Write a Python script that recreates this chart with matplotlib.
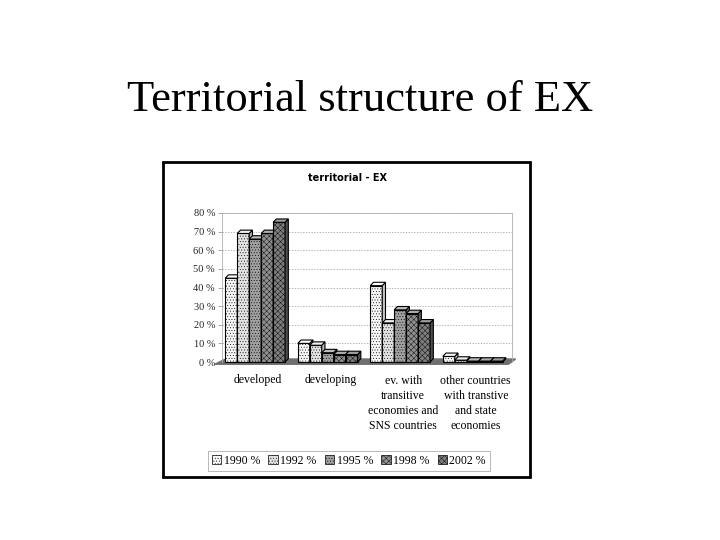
import numpy as np
import matplotlib.pyplot as plt
from matplotlib.patches import Rectangle, Polygon, Patch

# Data
categories = [
    "developed",
    "developing",
    "ev. with\ntransitive\neconomies and\nSNS countries",
    "other countries\nwith transtive\nand state\neconomies",
]
years = ["1990 %", "1992 %", "1995 %", "1998 %", "2002 %"]
values = {
    "1990 %": [45, 10, 41, 3],
    "1992 %": [69, 9, 21, 1],
    "1995 %": [66, 5, 28, 0.5],
    "1998 %": [69, 4, 26, 0.5],
    "2002 %": [75, 4, 21, 0.5],
}
y_ticks = [0, 10, 20, 30, 40, 50, 60, 70, 80]

# Styles per series
faces = ["#f6f6f6", "#e2e2e2", "#a0a0a0", "#909090", "#7e7e7e"]
hatches = ["......", "......", "......", "xxxxxx", "xxxxxx"]
side_col = ["#c8c8c8", "#b8b8b8", "#6a6a6a", "#5e5e5e", "#505050"]
top_col = ["#ffffff", "#f0f0f0", "#bcbcbc", "#acacac", "#9c9c9c"]

plt.rcParams["hatch.linewidth"] = 0.3
plt.rcParams["hatch.color"] = "#666666"

fig = plt.figure(figsize=(7.2, 5.4), dpi=100)

# Slide title
fig.text(0.5, 0.815, "Territorial structure of EX", ha="center", va="center",
         family="Liberation Serif", fontsize=32)

# Chart box
fig.patches.append(Rectangle((163 / 720, 1 - 477 / 540), 367 / 720, 315 / 540,
                             transform=fig.transFigure, fill=False,
                             edgecolor="black", linewidth=2))
fig.text(0.483, 1 - 178 / 540, "territorial - EX", ha="center", va="center",
         family="DejaVu Sans", fontsize=7, fontweight="bold")

ax = fig.add_axes([222 / 720, 1 - 362 / 540, 290 / 720, 149 / 540])

n_series = len(years)
width = 0.165
dx, dy = 0.045, 1.8
x = np.arange(len(categories))

for i, yr in enumerate(years):
    pos = x - 0.455 + width * (i + 0.5)
    vals = values[yr]
    ax.bar(pos, vals, width, color=faces[i], hatch=hatches[i],
           edgecolor="black", linewidth=0.8, zorder=3 + i * 0.01)
    for px, v in zip(pos, vals):
        l, r = px - width / 2, px + width / 2
        side = Polygon([(r, 0), (r + dx, dy), (r + dx, v + dy), (r, v)],
                       closed=True, facecolor=side_col[i], edgecolor="black",
                       linewidth=0.8, zorder=3 + i * 0.01)
        top = Polygon([(l, v), (l + dx, v + dy), (r + dx, v + dy), (r, v)],
                      closed=True, facecolor=top_col[i], edgecolor="black",
                      linewidth=0.8, zorder=3 + i * 0.01)
        ax.add_patch(side)
        ax.add_patch(top)

# Floor
floor = Polygon([(-0.6, -1.2), (-0.45, 1.6), (3.55, 1.6), (3.45, -1.2)],
                closed=True, facecolor="#6f6f6f", edgecolor="#6f6f6f",
                zorder=2)
ax.add_patch(floor)

ax.set_xlim(-0.5, 3.5)
ax.set_ylim(0, 80)
ax.set_yticks(y_ticks)
ax.set_yticklabels([f"{t} %" for t in y_ticks], family="Liberation Serif",
                   fontsize=7.5, color="#222222")
ax.set_xticks(x)
ax.set_xticklabels(categories, family="Liberation Serif", fontsize=8.5,
                   linespacing=1.35, va="top")
ax.tick_params(axis="x", length=0, pad=9)
ax.tick_params(axis="y", length=3, width=0.5, pad=2, color="#888888")
ax.yaxis.grid(True, linestyle=(0, (2, 2)), color="#999999", linewidth=0.5,
              zorder=0)
ax.set_axisbelow(True)
for s in ["top", "right", "left"]:
    ax.spines[s].set_color("#b0b0b0")
    ax.spines[s].set_linewidth(0.6)
ax.spines["bottom"].set_visible(False)
for p in ax.patches:
    p.set_clip_on(False)

# Legend
handles = [Patch(facecolor=faces[i], hatch=hatches[i], edgecolor="black",
                 linewidth=0.5) for i in range(n_series)]
leg = fig.legend(handles, years, loc="center", ncol=5,
                 bbox_to_anchor=(349 / 720, 1 - 461 / 540),
                 prop={"family": "Liberation Serif", "size": 8.5},
                 frameon=True, fancybox=False, edgecolor="#999999",
                 handlelength=0.8, handleheight=0.8, handletextpad=0.2,
                 columnspacing=0.7, borderpad=0.35)
leg.get_frame().set_linewidth(0.6)

fig.savefig("out.png", dpi=100)
